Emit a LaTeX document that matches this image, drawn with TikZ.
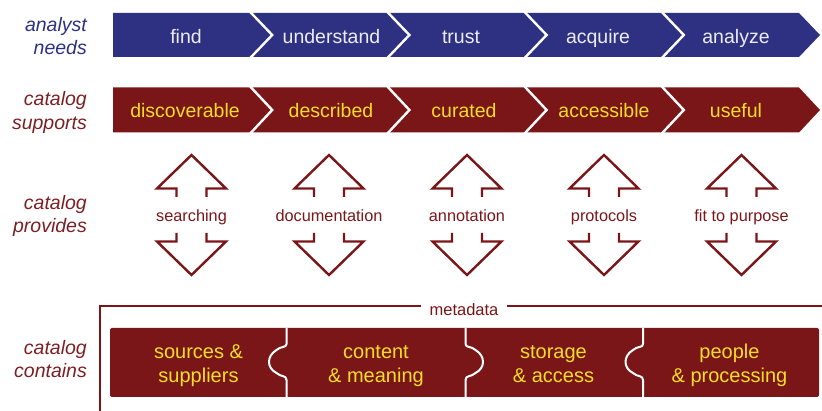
\documentclass[tikz,border=0pt]{standalone}
\usepackage{fontspec}
\setmainfont{Liberation Sans}
\definecolor{navy}{HTML}{2E3182}
\definecolor{maroon}{HTML}{7B1618}
\definecolor{labelred}{HTML}{7D1F22}
\definecolor{gold}{HTML}{F2DE2A}
\definecolor{pale}{HTML}{ECECF4}
\tikzset{
  rowlabel/.style={anchor=base east, align=right, font=\fontsize{19.5}{23.5}\selectfont\itshape, inner sep=0pt},
  chevtext/.style={anchor=base, font=\fontsize{19.5}{23.5}\selectfont, inner sep=0pt},
  sepline/.style={draw=white, line width=2.4pt, line join=miter},
  arrowline/.style={draw=maroon, line width=2.4pt, line join=miter, line cap=butt},
  provtext/.style={anchor=base, text=maroon, font=\fontsize{16.3}{19}\selectfont, inner sep=0pt},
  piecetext/.style={anchor=base, align=center, text=gold, font=\fontsize{20}{24}\selectfont, inner sep=0pt},
  knob/.style={draw=white, line width=2pt, line join=round},
  dblarrow/.pic={
    \draw[arrowline] (-15,-18) -- (-15,-26.5) -- (-34.5,-26.5) -- (0,-60) -- (34.5,-26.5) -- (15,-26.5) -- (15,-18);
    \draw[arrowline] (-15,18) -- (-15,26.5) -- (-34.5,26.5) -- (0,60) -- (34.5,26.5) -- (15,26.5) -- (15,18);
  }
}
\begin{document}
\begin{tikzpicture}[x=1pt, y=-1pt]
\useasboundingbox (0,0) rectangle (822,411);

% row labels (anchored at the baseline of their last line)
\node[rowlabel, text=navy] (lneeds) at (87,55) {analyst\\needs};
\node[rowlabel, text=labelred] (lsupports) at (87,129.5) {catalog\\supports};
\node[rowlabel, text=labelred] (lprovides) at (87,233) {catalog\\provides};
\node[rowlabel, text=labelred] (lcontains) at (87,378) {catalog\\contains};

% analyst needs: chevron bar
\fill[navy] (113,13) -- (799,13) -- (820,35) -- (799,57) -- (113,57) -- cycle;
\foreach \x in {250.2, 387.4, 524.6, 661.8}
  \draw[sepline] (\x,12) -- (\x+22,35) -- (\x,58);
\foreach \x/\t/\n in {186/find/nfind, 331.5/understand/nunderstand, 461/trust/ntrust, 598/acquire/nacquire, 736/analyze/nanalyze}
  \node[chevtext, text=pale] (\n) at (\x,43.5) {\t};

% catalog supports: chevron bar
\fill[maroon] (113,87.5) -- (799,87.5) -- (820,110) -- (799,132.5) -- (113,132.5) -- cycle;
\foreach \x in {250.2, 387.4, 524.6, 661.8}
  \draw[sepline] (\x,86.5) -- (\x+22,110) -- (\x,133.5);
\foreach \x/\t/\n in {185/discoverable/sdisc, 331/described/sdesc, 464/curated/scur, 604/accessible/sacc, 736/useful/suse}
  \node[chevtext, text=gold] (\n) at (\x,118) {\t};

% catalog provides: double arrows
\foreach \x/\t/\n in {191.5/searching/psearch, 329/documentation/pdoc, 467/annotation/pann, 604/protocols/pprot, 741.5/fit to purpose/pfit}{
  \pic at (\x,215) {dblarrow};
  \node[provtext] (\n) at (\x,221.5) {\t};
}

% catalog contains: metadata frame and puzzle bar
\draw[maroon, line width=2pt] (822,306) -- (100,306) -- (100,411);
\node[anchor=base, text=maroon, fill=white, inner xsep=9pt, inner ysep=2pt, font=\fontsize{16.5}{19}\selectfont] (meta) at (464,316) {metadata};
\fill[maroon, rounded corners=2pt] (110,328) rectangle (819,397);
\foreach \X/\s in {286.5/-1, 465.5/1, 643/-1}
  \draw[knob] (\X,328) -- (\X,344)
    .. controls (\X,348) and (\X+\s*6,346) .. (\X+\s*10,350)
    .. controls (\X+\s*20,356) and (\X+\s*20,368) .. (\X+\s*10,373)
    .. controls (\X+\s*6,377) and (\X,375) .. (\X,380) -- (\X,397);
\node[piecetext] (csrc) at (198.5,383) {sources \&\\suppliers};
\node[piecetext] (ccont) at (376,383) {content\\\& meaning};
\node[piecetext] (cstor) at (553.5,383) {storage\\\& access};
\node[piecetext] (cpeop) at (729.5,383) {people\\\& processing};
\end{tikzpicture}
\end{document}
